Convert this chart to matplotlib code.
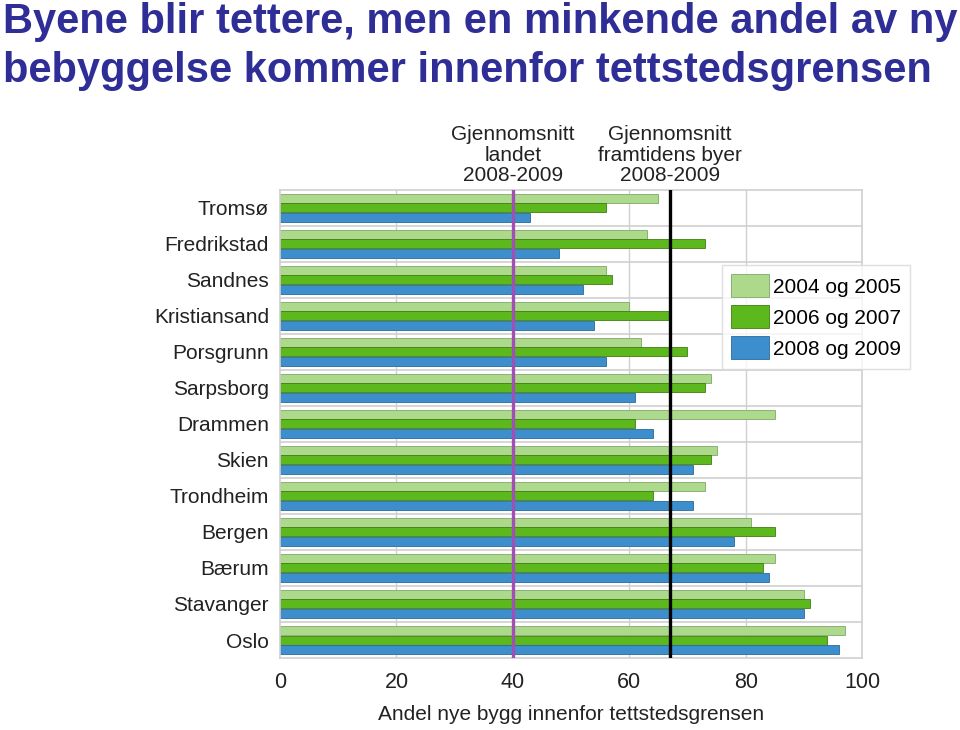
import numpy as np
import matplotlib
matplotlib.use("Agg")
import matplotlib.pyplot as plt
from matplotlib.patches import Patch

# ── data ──────────────────────────────────────────────────────────────────────
CITIES = ["Tromsø", "Fredrikstad", "Sandnes", "Kristiansand", "Porsgrunn",
          "Sarpsborg", "Drammen", "Skien", "Trondheim", "Bergen", "Bærum",
          "Stavanger", "Oslo"]
P_2004_2005 = [65, 63, 56, 60, 62, 74, 85, 75, 73, 81, 85, 90, 97]
P_2006_2007 = [56, 73, 57, 67, 70, 73, 61, 74, 64, 85, 83, 91, 94]
P_2008_2009 = [43, 48, 52, 54, 56, 61, 64, 71, 71, 78, 84, 90, 96]
SERIES_LABELS = ["2004 og 2005", "2006 og 2007", "2008 og 2009"]

AVG_LANDET = 40
AVG_BYER = 67

TITLE_LINES = ["Byene blir tettere, men en minkende andel av ny",
               "bebyggelse kommer innenfor tettstedsgrensen"]

# ── style ─────────────────────────────────────────────────────────────────────
COLORS = ["#acd98c", "#5cb81c", "#3c8fcc"]
EDGES = ["#7fa866", "#3f8010", "#2a6a9a"]
FONT = "Liberation Sans"
FS = 15

plt.rcParams["font.family"] = [FONT, "DejaVu Sans"]

fig = plt.figure(figsize=(9.6, 7.3), dpi=100)
ax = fig.add_axes([0.2917, 0.0986, 0.6063, 0.6414])

y = np.arange(len(CITIES))
h = 0.25
offsets = [-0.265, 0.0, 0.265]
for vals, off, c, ec, lab in zip([P_2004_2005, P_2006_2007, P_2008_2009],
                                 offsets, COLORS, EDGES, SERIES_LABELS):
    ax.barh(y + off, vals, height=h, color=c, edgecolor=ec, linewidth=0.6,
            label=lab, zorder=2)

ax.set_ylim(len(CITIES) - 0.5, -0.5)
ax.set_xlim(0, 100)
ax.set_xticks([0, 20, 40, 60, 80, 100])
ax.set_yticks(y)
ax.set_yticklabels(CITIES)
ax.tick_params(length=0, labelsize=FS, colors="#222222")
ax.tick_params(axis="y", pad=8)
ax.tick_params(axis="x", pad=10, labelsize=15.5)

# grid: verticals at ticks, horizontals between groups
for xv in [20, 40, 60, 80]:
    ax.axvline(xv, color="#d0d0d0", linewidth=1.0, zorder=1)
for yb in np.arange(0.5, len(CITIES) - 0.5, 1.0):
    ax.axhline(yb, color="#d0d0d0", linewidth=1.2, zorder=1)
for s in ax.spines.values():
    s.set_color("#d0d0d0")
    s.set_linewidth(1.2)

ax.axvline(AVG_LANDET, color="#a050b4", linewidth=2.4, zorder=3)
ax.axvline(AVG_BYER, color="black", linewidth=2.4, zorder=3)

ax.set_xlabel("Andel nye bygg innenfor tettstedsgrensen", fontsize=FS,
              color="#222222", labelpad=9)

ax.text(AVG_LANDET, 1.01, "Gjennomsnitt\nlandet\n2008-2009",
        transform=ax.get_xaxis_transform(), ha="center", va="bottom",
        fontsize=FS, color="#222222", linespacing=1.1)
ax.text(AVG_BYER, 1.01, "Gjennomsnitt\nframtidens byer\n2008-2009",
        transform=ax.get_xaxis_transform(), ha="center", va="bottom",
        fontsize=FS, color="#222222", linespacing=1.1)

handles = [Patch(facecolor=c, edgecolor=ec, linewidth=0.6, label=l)
           for c, ec, l in zip(COLORS, EDGES, SERIES_LABELS)]
ax.legend(handles=handles, loc="upper right",
          bbox_to_anchor=(0.948, 0.637), bbox_transform=fig.transFigure,
          borderaxespad=0, fontsize=FS, frameon=True, fancybox=False,
          edgecolor="#d8d8d8", handlelength=1.8, handleheight=1.3,
          handletextpad=0.2, labelspacing=0.4, borderpad=0.45)

# title, two lines placed by baseline
for line, base_px in zip(TITLE_LINES, [33, 82]):
    fig.text(0.003, 1 - base_px / 730, line, ha="left", va="baseline",
             fontsize=30, fontweight="bold", color="#2e2e96")

fig.savefig("out.png", dpi=100)
